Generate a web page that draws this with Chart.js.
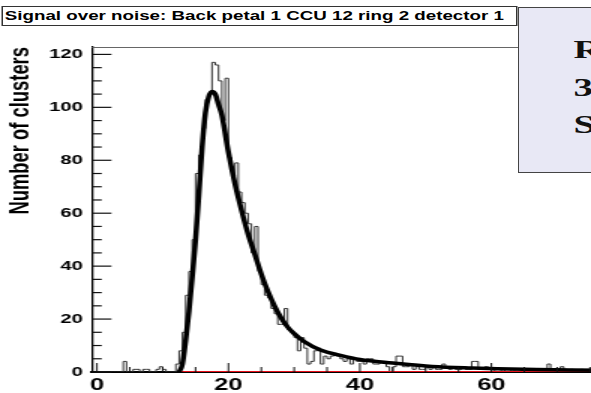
<!DOCTYPE html>
<html>
<head>
<meta charset="utf-8">
<script src="https://cdn.jsdelivr.net/npm/chart.js@4"></script>
<style>
  html, body { margin: 0; padding: 0; width: 591px; height: 393px; overflow: hidden; background: #fff; }
  /* the whole canvas is drawn narrow and stretched sideways */
  #wrap { position: absolute; left: 0; top: 0; width: 394px; height: 393px; transform: scaleX(1.5); transform-origin: 0 0; }
  #chart { position: absolute; left: 0; top: 0; }
  #title { position: absolute; left: 0.7px; top: 6px; width: 344px; height: 20px; box-sizing: border-box;
           border: 1px solid #333; background: #fff; font: bold 12.5px "Liberation Sans", Arial, sans-serif;
           line-height: 18px; padding-left: 1.5px; white-space: nowrap; color: #000; }
  #info { position: absolute; left: 345.3px; top: 7px; width: 80px; height: 166px; box-sizing: border-box;
          border: 1px solid #444; background: #e8e8f5; font: bold 26px "Liberation Serif", "Times New Roman", serif;
          color: #111; }
  #info span { position: absolute; left: 36px; line-height: 26px; }
</style>
</head>
<body>
<div id="wrap">
  <canvas id="chart" width="410" height="393"></canvas>
  <div id="title">Signal over noise: Back petal 1 CCU 12 ring 2 detector 1</div>
  <div id="info"><span style="top:29px">R</span><span style="top:67px">3</span><span style="top:104px">S</span></div>
</div>
<script>
'use strict';

// histogram: 0.5 wide bins starting at 0
const binLow = 0;
const binWidth = 0.5;
const counts = [
  0, 0, 0, 0, 0, 0, 0, 0, 0, 4,         // 0 - 5
  0, 0, 1, 1, 0, 1, 1, 0, 0, 1,         // 5 - 10
  2, 1, 0, 0, 0, 3, 8, 15, 29, 38,      // 10 - 15
  50, 75, 82, 92, 103, 105, 117, 116, 110, 95, // 15 - 20
  111, 81, 74, 79, 68, 64, 60, 56, 45, 55,     // 20 - 25
  38, 33, 29, 28, 24, 22, 18, 18, 24, 16,      // 25 - 30
  15, 13, 8, 13, 9, 3, 4, 8, 9, 3,      // 30 - 35
  6, 5, 6, 7, 6, 5, 4, 5, 3, 5,         // 35 - 40
  4, 4, 3, 5, 5, 3, 3, 4, 4, 2,         // 40 - 45
  0, 2, 6, 6, 2, 2, 3, 1, 2, 1,         // 45 - 50
  1, 2, 1, 2, 1, 1, 3, 2, 1, 2,         // 50 - 55
  1, 1, 2, 1, 1, 4, 4, 1, 1, 2,         // 55 - 60
  1, 0, 1, 1, 0, 1, 1, 0, 1, 1,         // 60 - 65
  0, 1, 1, 0, 1, 0, 1, 0, 3, 1,         // 65 - 70
  0, 1, 2, 1, 0, 1, 0, 0, 1, 0,         // 70 - 75
  0, 1, 0, 0                            // 75 - 77
];

// fitted curve, sampled
const fitX = [12.5, 13, 13.5, 14, 14.5, 15, 15.5, 16, 16.5, 17, 17.5, 18, 18.5, 19, 20, 21, 22, 23, 24, 25,
              26, 27, 28, 29, 30, 31.5, 34, 37, 40, 45, 51, 57, 65, 72, 78.8];
const fitY = [0, 3, 12, 23, 36, 50, 67, 85, 98, 104, 106, 105, 101, 97, 83, 71, 61, 52, 44.5, 37,
              30.5, 25, 20.5, 17, 14.5, 11.5, 8.3, 6.3, 4.7, 3.4, 2.1, 1.5, 1.0, 0.8, 0.6];

// zero line under the fit range
const zeroLineX = [12.5, 78.8];

const xMajor = [0, 20, 40, 60];
const xMinor = [5, 10, 15, 25, 30, 35, 45, 50, 55, 65, 70, 75];
const yMajor = [0, 20, 40, 60, 80, 100, 120];
const yMinor = [5, 10, 15, 25, 30, 35, 45, 50, 55, 65, 70, 75, 85, 90, 95, 105, 110, 115];

let histPoints = counts.map((c, i) => ({ x: binLow + i * binWidth, y: c }));
histPoints.push({ x: binLow + counts.length * binWidth, y: counts[counts.length - 1] });

// ticks pointing into the frame, plus the frame top
const rootFrame = {
  id: 'rootFrame',
  afterDraw(chart) {
    const { ctx, chartArea: a, scales: { x, y } } = chart;
    ctx.save();
    ctx.strokeStyle = '#666';
    ctx.lineWidth = 1;
    ctx.beginPath();
    ctx.moveTo(a.left, a.top + 0.5);
    ctx.lineTo(a.right, a.top + 0.5);
    ctx.stroke();

    ctx.strokeStyle = '#111';
    ctx.lineWidth = 1.2;
    const yTick = (v, len) => {
      const py = y.getPixelForValue(v);
      ctx.beginPath();
      ctx.moveTo(a.left, py);
      ctx.lineTo(a.left + len, py);
      ctx.stroke();
    };
    yMajor.forEach(v => yTick(v, 13));
    yMinor.forEach(v => yTick(v, 6.5));

    ctx.lineWidth = 1;
    const xTick = (v, len) => {
      const px = x.getPixelForValue(v);
      ctx.beginPath();
      ctx.moveTo(px, a.bottom);
      ctx.lineTo(px, a.bottom - len);
      ctx.stroke();
    };
    xMajor.forEach(v => xTick(v, 9));
    xMinor.forEach(v => xTick(v, 5));
    ctx.restore();
  }
};

Chart.defaults.font.family = '"Liberation Sans", Arial, sans-serif';
Chart.defaults.color = '#000';

let canvasElem = document.getElementById('chart');

new Chart(canvasElem, {
  type: 'line',
  data: {
    datasets: [
      {
        label: 'fit',
        data: fitX.map((v, i) => ({ x: v, y: fitY[i] })),
        borderColor: '#000',
        borderWidth: 3.5,
        pointRadius: 0,
        cubicInterpolationMode: 'monotone',
        fill: false,
        order: 1
      },
      {
        label: 'zero',
        data: zeroLineX.map(v => ({ x: v, y: 0 })),
        borderColor: '#e8101a',
        borderWidth: 2.2,
        pointRadius: 0,
        fill: false,
        order: 2
      },
      {
        label: 'clusters',
        data: histPoints,
        stepped: 'after',
        borderColor: '#333',
        borderWidth: 1,
        pointRadius: 0,
        fill: false,
        order: 3
      }
    ]
  },
  options: {
    responsive: false,
    animation: false,
    layout: { padding: { top: 47, right: 0, left: 0, bottom: 0 } },
    plugins: { legend: { display: false }, tooltip: { enabled: false } },
    scales: {
      x: {
        type: 'linear',
        min: -0.76,
        max: 78.8,
        afterBuildTicks: scale => { scale.ticks = xMajor.map(v => ({ value: v })); },
        afterFit: scale => { scale.height = 21; },
        grid: { display: false, drawTicks: false },
        border: { display: true, color: '#000', width: 2 },
        ticks: { font: { size: 17, weight: 'bold' }, padding: 3, maxRotation: 0, autoSkip: false }
      },
      y: {
        min: 0,
        max: 122.8,
        afterBuildTicks: scale => { scale.ticks = yMajor.map(v => ({ value: v })); },
        afterFit: scale => { scale.width = 61.3; },
        grid: { display: false, drawTicks: false },
        border: { display: true, color: '#000', width: 1.3 },
        ticks: { font: { size: 13.5, weight: 'bold' }, padding: 6 },
        title: {
          display: true,
          text: 'Number of clusters',
          align: 'end',
          font: { size: 18.4, weight: 'bold' },
          padding: { top: 3, bottom: 0 }
        }
      }
    }
  },
  plugins: [rootFrame]
});
</script>
</body>
</html>
